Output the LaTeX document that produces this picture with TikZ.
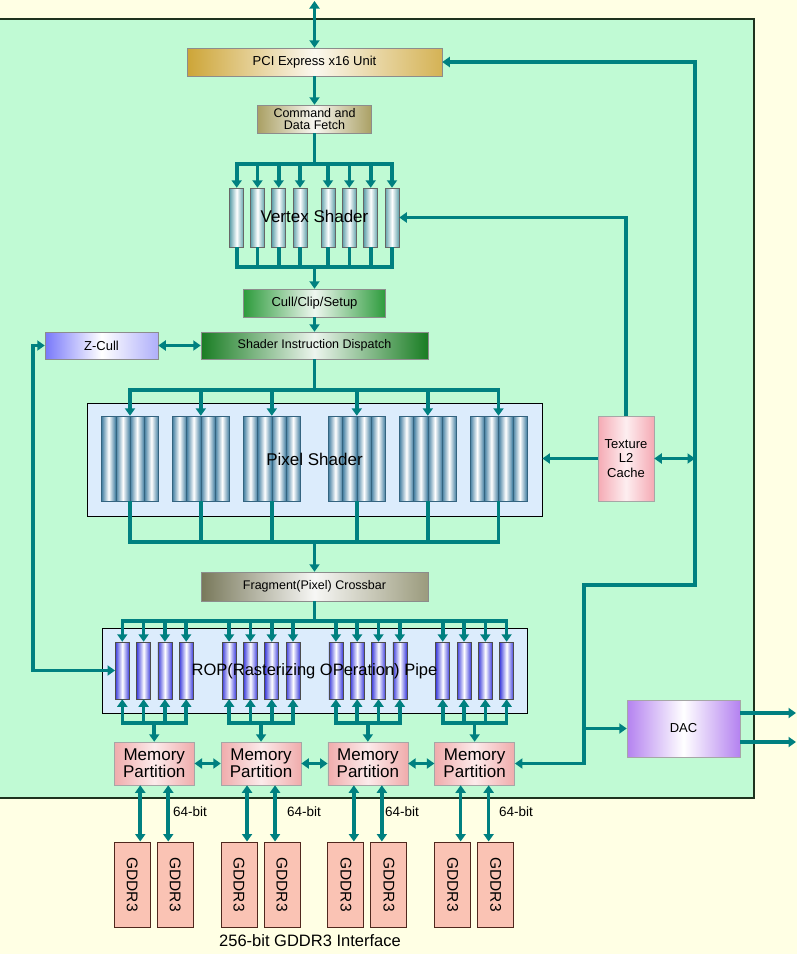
\documentclass[tikz,border=0pt]{standalone}
\usepackage{fontspec}
\usepackage{graphicx}
\setmainfont{Liberation Sans}
\usetikzlibrary{arrows.meta}
\definecolor{conn}{RGB}{0,128,128}
\definecolor{cream}{RGB}{255,255,228}
\definecolor{mint}{RGB}{192,250,212}
\definecolor{panelline}{RGB}{30,50,30}
\definecolor{gold}{RGB}{205,165,55}
\definecolor{khaki}{RGB}{170,160,100}
\definecolor{gcull}{RGB}{45,155,60}
\definecolor{gsid}{RGB}{25,125,35}
\definecolor{zblue}{RGB}{120,120,250}
\definecolor{zblue2}{RGB}{175,175,250}
\definecolor{tpink}{RGB}{245,170,180}
\definecolor{mpink}{RGB}{240,172,172}
\definecolor{xgray}{RGB}{120,120,90}
\definecolor{xgray2}{RGB}{155,155,125}
\definecolor{dacv}{RGB}{180,130,240}
\definecolor{pcolc}{RGB}{65,125,160}
\definecolor{vcolc}{RGB}{95,160,170}
\definecolor{rcolc}{RGB}{60,60,220}
\definecolor{gdfill}{RGB}{250,195,180}
\definecolor{gdline}{RGB}{80,40,30}
\definecolor{shbox}{RGB}{220,236,252}
\begin{document}
\begin{tikzpicture}[x=1pt,y=-1pt,
  font=\fontsize{12.5}{14}\selectfont,
  conn/.style={draw=conn,line width=3.6pt},
  arr/.style={conn,-{Triangle[length=7.5pt,width=10pt]}},
  darr/.style={conn,{Triangle[length=7.5pt,width=10pt]}-{Triangle[length=7.5pt,width=10pt]}},
  blk/.style={inner sep=0pt,align=center,draw=black!45,line width=0.5pt},
  vcol/.style={inner sep=0pt,minimum width=14pt,minimum height=59pt,draw=black!60,line width=0.5pt,left color=vcolc,right color=vcolc,middle color=white},
  pcol/.style={inner sep=0pt,minimum width=14.25pt,minimum height=85pt,draw=pcolc!80!black,line width=0.4pt,left color=pcolc,right color=pcolc,middle color=white},
  rcol/.style={inner sep=0pt,minimum width=14pt,minimum height=57pt,draw=black!70,line width=0.5pt,left color=rcolc,right color=rcolc,middle color=white},
  mpbox/.style={blk,minimum width=80pt,minimum height=43pt,draw=black!35,left color=mpink,right color=mpink,middle color=mpink!25,font=\fontsize{17}{17}\selectfont},
  gdbox/.style={inner sep=0pt,minimum width=36pt,minimum height=85pt,fill=gdfill,draw=gdline,line width=1pt,font=\fontsize{15.5}{16}\selectfont},
  bitlab/.style={anchor=west,inner sep=0pt,font=\fontsize{13.5}{14}\selectfont}
]
\fill[cream] (0,0) rectangle (797,954);
\useasboundingbox (0,0) rectangle (797,954);
\draw[fill=mint,draw=panelline,line width=1.5pt] (-3,19) rectangle (754,798);

% boxes
\node[blk,minimum width=255pt,minimum height=28pt,left color=gold,right color=gold!85,middle color=gold!8] (pci) at (314.5,62) {\fontsize{13}{14}\selectfont PCI Express x16 Unit};
\node[blk,minimum width=114pt,minimum height=28pt,left color=khaki,right color=khaki,middle color=khaki!8,font=\fontsize{12.5}{12.5}\selectfont] (cmd) at (314.5,119) {Command and\\Data Fetch};
\foreach \i/\x in {1/236.7,2/257.5,3/278.7,4/300,5/328,6/349.3,7/370.7,8/392}
  \node[vcol] (v\i) at (\x,217.5) {};
\node[blk,minimum width=142pt,minimum height=28pt,left color=gcull,right color=gcull,middle color=gcull!8,font=\fontsize{13}{14}\selectfont] (cull) at (314.5,303) {Cull/Clip/Setup};
\node[blk,minimum width=227pt,minimum height=27pt,left color=gsid,right color=gsid,middle color=gsid!8] (sid) at (314.5,345.5) {Shader Instruction Dispatch};
\node[blk,minimum width=113pt,minimum height=27pt,left color=zblue,right color=zblue2,middle color=white,font=\fontsize{13}{14}\selectfont] (zc) at (101.5,345.5) {Z-Cull};

\node[inner sep=0pt,minimum width=455pt,minimum height=113pt,fill=shbox,draw=black,line width=0.8pt] (pix) at (314.5,459.5) {};
\foreach \g/\x in {1/130,2/200.8,3/271.8,4/356.8,5/427.8,6/498.5}{
  \node[inner sep=0pt,minimum width=57pt,minimum height=85pt] (pg\g) at (\x,458.5) {};
  \foreach \k in {1,...,4}
    \node[pcol] (p\g\k) at ({\x+(\k-2.5)*14.25},458.5) {};
}
\node[blk,minimum width=56pt,minimum height=85pt,draw=black!35,left color=tpink,right color=tpink,middle color=tpink!20,font=\fontsize{13}{14.5}\selectfont] (tex) at (626,458.5) {Texture\\L2\\Cache};

\node[blk,minimum width=227pt,minimum height=29pt,left color=xgray,right color=xgray2,middle color=xgray!6] (xbar) at (314.5,586.5) {Fragment(Pixel) Crossbar};

\node[inner sep=0pt,minimum width=425pt,minimum height=85pt,fill=shbox,draw=black,line width=0.8pt] (rop) at (314.5,670.5) {};
\foreach \g in {1,...,4}{
  \foreach \k in {1,...,4}
    \node[rcol] (r\g\k) at ({122.3+(\g-1)*106.8+(\k-1)*21.3},670.5) {};
  \node[mpbox] (mp\g) at ({154.25+(\g-1)*106.8},763.5) {Memory\\Partition};
  \coordinate (rg\g) at ({154.25+(\g-1)*106.8},723);
  \node[gdbox] (gda\g) at ({154.25+(\g-1)*106.8-22},884.5) {\rotatebox{-90}{GDDR3}};
  \node[gdbox] (gdb\g) at ({154.25+(\g-1)*106.8+21},884.5) {\rotatebox{-90}{GDDR3}};
}
\node[blk,minimum width=113pt,minimum height=57pt,draw=black!35,left color=dacv,right color=dacv,middle color=white,font=\fontsize{13}{14}\selectfont] (dac) at (683.5,728.5) {DAC};

% coordinates
\coordinate (top) at (314.5,1);
\coordinate (vbT) at (314.5,164);
\coordinate (vbB) at (314.5,267);
\coordinate (pbT) at (314.5,390);
\coordinate (pbB) at (314.5,542);
\coordinate (rbT) at (314.5,621);
\coordinate (zl) at (33,345.5);
\coordinate (rt) at (695,62);
\coordinate (rm) at (695,585);
\coordinate (rj) at (584,585);
\coordinate (rl) at (584,763.5);
\coordinate (o1) at (796,713);
\coordinate (o2) at (796,742);

% connectors
\draw[darr] (top) -- (pci.north);
\draw[arr] (pci.south) -- (cmd.north);
\draw[conn] (cmd.south) -- (vbT);
\foreach \i in {1,...,8} \draw[arr] (vbT) -| (v\i.north);
\foreach \i in {1,...,8} \draw[conn] (v\i.south) |- (vbB);
\draw[arr] (vbB) -- (cull.north);
\draw[arr] (cull.south) -- (sid.north);
\draw[darr] (zc.east) -- (sid.west);
\draw[conn] (sid.south) -- (pbT);
\foreach \g in {1,...,6} \draw[arr] (pbT) -| (pg\g.north);
\foreach \g in {1,...,6} \draw[conn] (pg\g.south) |- (pbB);
\draw[arr] (pbB) -- (xbar.north);
\draw[conn] (xbar.south) -- (rbT);
\foreach \g in {1,...,4}{
  \foreach \k in {1,...,4}{
    \draw[arr] (rbT) -| (r\g\k.north);
    \draw[arr] (rg\g) -| (r\g\k.south);
  }
  \draw[arr] (rg\g) -- (mp\g.north);
  \draw[darr] ([xshift=-14pt]mp\g.south) -- ([xshift=8pt]gda\g.north);
  \draw[darr] ([xshift=14pt]mp\g.south) -- ([xshift=-7pt]gdb\g.north);
}
\draw[darr] (mp1.east) -- (mp2.west);
\draw[darr] (mp2.east) -- (mp3.west);
\draw[darr] (mp3.east) -- (mp4.west);
\draw[darr] (zc.west) -- (zl) |- (r11.west);
\draw[darr] (pci.east) -- (rt) -- (rm) -- (rj) -- (rl) -- (mp4.east);
\draw[darr] (tex.east) -- (tex.east -| rt);
\draw[arr] (tex.west) -- (tex.west -| pix.east);
\draw[arr] (tex.north) |- (v8.east);
\draw[arr] (dac.west -| rj) -- (dac.west);
\draw[arr] (dac.east |- o1) -- (o1);
\draw[arr] (dac.east |- o2) -- (o2);

% labels
\node[font=\fontsize{17}{17}\selectfont] (vlab) at (314.5,216) {Vertex Shader};
\node[font=\fontsize{17}{17}\selectfont] (plab) at (314.5,459) {Pixel Shader};
\node[font=\fontsize{16.5}{17}\selectfont] (rlab) at (314.5,671) {ROP(Rasterizing OPeration) Pipe};
\node[bitlab] (b1) at (173,812) {64-bit};
\node[bitlab] (b2) at (287,812) {64-bit};
\node[bitlab] (b3) at (385,812) {64-bit};
\node[bitlab] (b4) at (499,812) {64-bit};
\node[font=\fontsize{16.5}{17}\selectfont] (iface) at (310,941) {256-bit GDDR3 Interface};
\end{tikzpicture}
\end{document}
